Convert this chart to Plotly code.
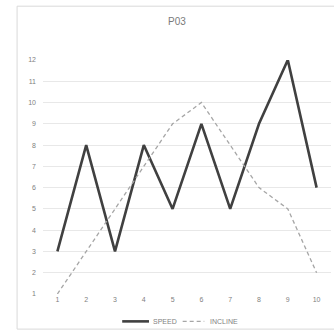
import plotly.graph_objects as go

# Session intervals and settings
intervals = [1, 2, 3, 4, 5, 6, 7, 8, 9, 10]
speed = [3, 8, 3, 8, 5, 9, 5, 9, 12, 6]
incline = [1, 3, 5, 7, 9, 10, 8, 6, 5, 2]
y_ticks = list(range(1, 13))

text_color = "#7f7f7f"
speed_style = dict(color="#404040", width=2.6)
incline_style = dict(color="#a6a6a6", width=1.3, dash="4px,3px")

fig = go.Figure()
fig.add_trace(go.Scatter(x=intervals, y=speed, mode="lines", name="SPEED",
                         line=speed_style))
fig.add_trace(go.Scatter(x=intervals, y=incline, mode="lines", name="INCLINE",
                         line=incline_style))

# Compact legend drawn below the plot area (paper coordinates)
leg_y = -0.117
legend_shapes = [
    dict(type="line", xref="paper", yref="paper", x0=0.275, x1=0.368, y0=leg_y, y1=leg_y,
         line=speed_style),
    dict(type="line", xref="paper", yref="paper", x0=0.485, x1=0.56, y0=leg_y, y1=leg_y,
         line=incline_style),
]
legend_labels = [
    dict(text=fig.data[0].name, xref="paper", yref="paper", x=0.375, y=leg_y,
         xanchor="left", yanchor="middle", showarrow=False),
    dict(text=fig.data[1].name, xref="paper", yref="paper", x=0.573, y=leg_y,
         xanchor="left", yanchor="middle", showarrow=False),
]

fig.update_layout(
    width=334, height=333,
    margin=dict(l=43, r=3, t=60, b=39),
    paper_bgcolor="white", plot_bgcolor="white",
    font=dict(family="Liberation Sans", color=text_color, size=7),
    title=dict(text="P03", x=0.53, xanchor="center", y=0.935, yanchor="middle",
               font=dict(size=10, color="#7a7a7a")),
    showlegend=False,
    xaxis=dict(range=[0.5, 10.5], tickvals=intervals, ticktext=[str(v) for v in intervals],
               showgrid=False, zeroline=False, showline=False, ticks="",
               tickfont=dict(size=7, color=text_color)),
    yaxis=dict(range=[1, 12], tickvals=y_ticks, showgrid=True, gridcolor="#e8e8e8",
               gridwidth=1, zeroline=False, showline=False, ticks="",
               tickfont=dict(size=7, color=text_color), ticklabelstandoff=6),
    shapes=[dict(type="rect", xref="paper", yref="paper",
                 x0=-0.09, x1=1.05, y0=-0.15, y1=1.23,
                 line=dict(color="#d9d9d9", width=1))] + legend_shapes,
    annotations=legend_labels,
)

fig.write_html("out.html")
